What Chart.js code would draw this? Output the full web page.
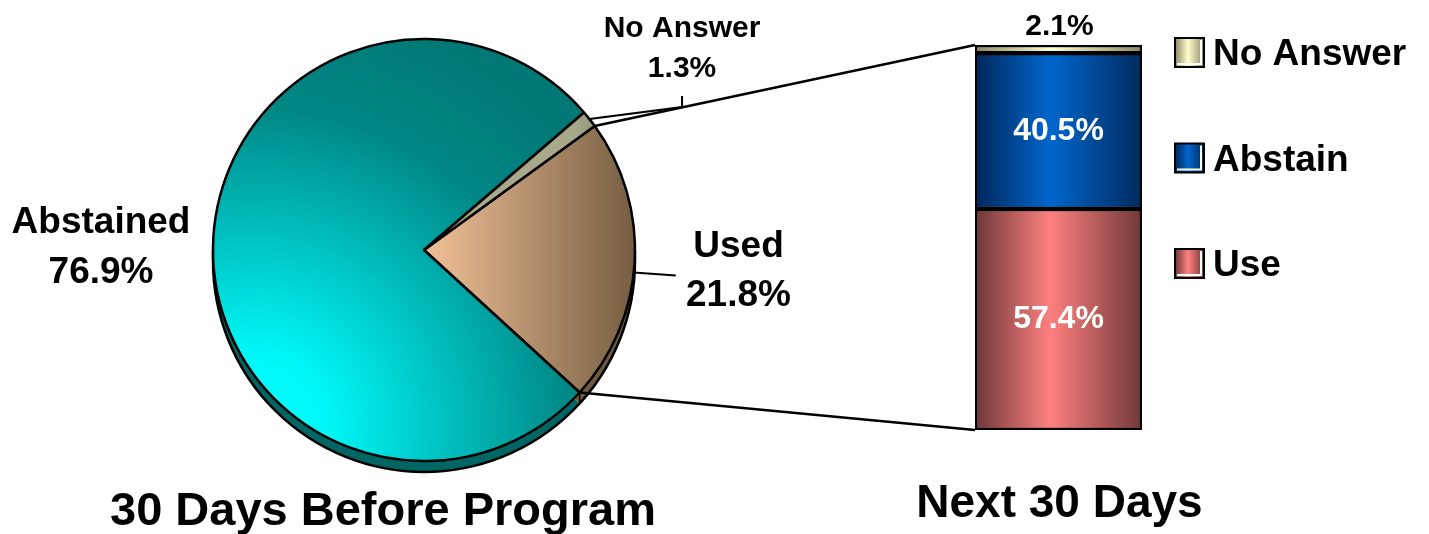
<!doctype html>
<html>
<head>
<meta charset="utf-8">
<title>30 Days Before Program / Next 30 Days</title>
<script src="https://cdn.jsdelivr.net/npm/chart.js@4.4.1/dist/chart.umd.min.js"></script>
<style>
  html, body { margin: 0; padding: 0; background: #fff; }
  #wrap { position: relative; width: 1429px; height: 534px; }
  #wrap canvas { position: absolute; top: 0; }
  #pie { left: 0; }
  #bar { left: 860px; }
</style>
</head>
<body>
<div id="wrap">
  <canvas id="pie" width="1429" height="534"></canvas>
  <canvas id="bar" width="569" height="534"></canvas>
</div>
<script>
// pie: the 30 days before the program
var pieLabels = ['Used', 'Abstained', 'No Answer'];
var pieValues = [21.8, 76.9, 1.3];
var pieTitle = '30 Days Before Program';

// stacked bar: the next 30 days (bottom to top)
var barLabels = ['Use', 'Abstain', 'No Answer'];
var barValues = [57.4, 40.5, 2.1];
var barTitle = 'Next 30 Days';

var FONT = '"Liberation Sans", Arial, Helvetica, sans-serif';
var DEPTH = 11;      // thickness of the pie rim
var RADIUS = 211;

function pct(v) { return v.toFixed(1) + '%'; }

// edge - centre - edge shading for bars and legend boxes
var barStops = [
  ['#6c3838', '#ff8080', '#703838'],
  ['#00275a', '#0066cc', '#002a5e'],
  ['#8a8866', '#ffffcc', '#8a8866']
];

function shade(ctx, x0, x1, stops) {
  var g = ctx.createLinearGradient(x0, 0, x1, 0);
  g.addColorStop(0, stops[0]);
  g.addColorStop(0.45, stops[1]);
  g.addColorStop(1, stops[2]);
  return g;
}

function barFill(chart, i) {
  var a = chart.chartArea;
  if (!a) return barStops[i][1];
  return shade(chart.ctx, a.left, a.right, barStops[i]);
}

var pieFlat = ['#b0906c', '#00b0b0', '#99987a'];
var pieRim = ['#6e5a40', '#006664', '#707058'];

function pieFill(chart, i) {
  var a = chart.chartArea;
  if (!a) return pieFlat[i];
  var ctx = chart.ctx;
  var cx = (a.left + a.right) / 2, cy = (a.top + a.bottom) / 2;
  var g;
  if (i === 0) {
    g = ctx.createLinearGradient(cx + 10, 0, cx + RADIUS, 0);
    g.addColorStop(0, '#ecbd94');
    g.addColorStop(1, '#765e42');
  } else if (i === 1) {
    g = ctx.createRadialGradient(cx - 170, cy + 175, 0, cx - 170, cy + 175, 420);
    g.addColorStop(0, '#00ffff');
    g.addColorStop(0.18, '#00f6f6');
    g.addColorStop(0.75, '#008886');
    g.addColorStop(1, '#007876');
  } else {
    g = ctx.createLinearGradient(cx + 150, 0, cx + 190, 0);
    g.addColorStop(0, '#a8a88a');
    g.addColorStop(1, '#828164');
  }
  return g;
}

// labels printed on / above the bar segments, plus the bar title
var barText = {
  id: 'barText',
  afterDatasetsDraw: function (chart) {
    var ctx = chart.ctx, a = chart.chartArea;
    ctx.save();
    ctx.textAlign = 'center';
    chart.data.datasets.forEach(function (ds, i) {
      var el = chart.getDatasetMeta(i).data[0];
      var txt = pct(ds.data[0]);
      if (i === chart.data.datasets.length - 1) {
        ctx.font = 'bold 30px ' + FONT;
        ctx.fillStyle = '#000';
        ctx.textBaseline = 'alphabetic';
        ctx.fillText(txt, el.x + 1, el.y - 10);
      } else {
        ctx.font = 'bold 32px ' + FONT;
        ctx.fillStyle = '#fff';
        ctx.textBaseline = 'middle';
        ctx.fillText(txt, el.x, (el.y + el.base) / 2);
      }
    });
    ctx.fillStyle = '#000';
    ctx.textBaseline = 'alphabetic';
    ctx.font = 'bold 46px ' + FONT;
    ctx.fillText(chart.data.labels[0], (a.left + a.right) / 2 + 1, 517);
    ctx.restore();
  }
};

// legend to the right of the bar, top segment first
var barLegend = {
  id: 'barLegend',
  afterDraw: function (chart) {
    var ctx = chart.ctx, a = chart.chartArea;
    var n = chart.data.datasets.length;
    var bx = a.right + 33, size = 29;
    ctx.save();
    ctx.font = 'bold 37px ' + FONT;
    ctx.textBaseline = 'alphabetic';
    ctx.textAlign = 'left';
    for (var k = 0; k < n; k++) {
      var i = n - 1 - k;
      var ty = 38 + k * 105.5;
      ctx.fillStyle = shade(ctx, bx, bx + size, barStops[i]);
      ctx.fillRect(bx, ty, size, size);
      ctx.strokeStyle = '#fff';
      ctx.lineWidth = 2;
      ctx.beginPath();
      ctx.moveTo(bx + 2, ty + size - 3);
      ctx.lineTo(bx + size - 3, ty + size - 3);
      ctx.lineTo(bx + size - 3, ty + 2);
      ctx.stroke();
      ctx.strokeStyle = '#000';
      ctx.strokeRect(bx, ty, size, size);
      ctx.fillStyle = '#000';
      ctx.fillText(chart.data.datasets[i].label, bx + 38, ty + 27);
    }
    ctx.restore();
  }
};

var barCanvas = document.getElementById('bar');
var barChart = new Chart(barCanvas, {
  type: 'bar',
  data: {
    labels: [barTitle],
    datasets: barLabels.map(function (lab, i) {
      return {
        label: lab,
        data: [barValues[i]],
        backgroundColor: function (c) { return barFill(c.chart, i); },
        borderColor: '#000',
        borderWidth: 2.5,
        borderSkipped: false,
        barPercentage: 1,
        categoryPercentage: 1
      };
    })
  },
  options: {
    responsive: false,
    animation: false,
    events: [],
    layout: { padding: { left: 115, right: 287, top: 45, bottom: 104 } },
    scales: {
      x: { display: false, stacked: true },
      y: { display: false, stacked: true, min: 0, max: 100 }
    },
    plugins: { legend: { display: false }, tooltip: { enabled: false } }
  },
  plugins: [barText, barLegend]
});

// rim under the pie so it reads as a thick disc
var pieRimPlugin = {
  id: 'pieRim',
  beforeDatasetsDraw: function (chart) {
    var ctx = chart.ctx;
    var arcs = chart.getDatasetMeta(0).data;
    var cx = arcs[0].x, cy = arcs[0].y, r = arcs[0].outerRadius;
    ctx.save();
    arcs.forEach(function (arc, i) {
      ctx.beginPath();
      ctx.moveTo(cx, cy + DEPTH);
      ctx.arc(cx, cy + DEPTH, r, arc.startAngle, arc.endAngle);
      ctx.closePath();
      ctx.fillStyle = pieRim[i];
      ctx.fill();
    });
    ctx.fillStyle = pieRim[1];
    ctx.fillRect(cx - r, cy, 4, DEPTH);
    ctx.fillStyle = pieRim[0];
    ctx.fillRect(cx + r - 4, cy, 4, DEPTH);
    ctx.strokeStyle = '#000';
    ctx.lineWidth = 2.5;
    ctx.beginPath();
    ctx.moveTo(cx - r, cy);
    ctx.lineTo(cx - r, cy + DEPTH);
    ctx.arc(cx, cy + DEPTH, r, Math.PI, 0, true);
    ctx.lineTo(cx + r, cy);
    ctx.stroke();
    // slice boundaries visible on the front of the rim
    arcs.forEach(function (arc) {
      var a = arc.startAngle % (2 * Math.PI);
      if (Math.sin(a) > 0) {
        var ex = cx + r * Math.cos(a), ey = cy + r * Math.sin(a);
        ctx.lineWidth = 1.5;
        ctx.beginPath();
        ctx.moveTo(ex, ey);
        ctx.lineTo(ex, ey + DEPTH);
        ctx.stroke();
      }
    });
    ctx.restore();
  }
};

// slice labels, leader lines, lines across to the bar and the pie title
var labelGap = [104, 112, 118];
var labelSize = [37, 37, 30];
var lineStep = [49, 50, 40];

var pieNotes = {
  id: 'pieNotes',
  afterDraw: function (chart) {
    var ctx = chart.ctx;
    var arcs = chart.getDatasetMeta(0).data;
    var cx = arcs[0].x, cy = arcs[0].y, r = arcs[0].outerRadius;
    function edge(a, extra) {
      return [cx + (r + (extra || 0)) * Math.cos(a), cy + (r + (extra || 0)) * Math.sin(a)];
    }
    ctx.save();
    ctx.strokeStyle = '#000';
    ctx.lineWidth = 2.5;
    ctx.lineJoin = 'miter';

    // lines from the "Used" slice to the bar
    var offX = barCanvas.offsetLeft, offY = barCanvas.offsetTop;
    var topEl = barChart.getDatasetMeta(barLabels.length - 1).data[0];
    var botEl = barChart.getDatasetMeta(0).data[0];
    var p1 = edge(arcs[0].startAngle), p2 = edge(arcs[0].endAngle);
    ctx.beginPath();
    ctx.moveTo(p1[0], p1[1]);
    ctx.lineTo(offX + topEl.x - topEl.width / 2, offY + topEl.y);
    ctx.moveTo(p2[0], p2[1]);
    ctx.lineTo(offX + botEl.x - botEl.width / 2, offY + botEl.base);
    ctx.stroke();

    ctx.textAlign = 'center';
    ctx.textBaseline = 'alphabetic';
    ctx.fillStyle = '#000';
    arcs.forEach(function (arc, i) {
      var mid = (arc.startAngle + arc.endAngle) / 2;
      var c = edge(mid, labelGap[i]);
      var fs = labelSize[i], step = lineStep[i];
      var b1 = c[1] - step / 2 + fs * 0.36;
      ctx.font = 'bold ' + fs + 'px ' + FONT;
      ctx.fillText(pieLabels[i], c[0], b1);
      ctx.fillText(pct(pieValues[i]), c[0], b1 + step);
    });

    // leader to "Used"
    var mu = (arcs[0].startAngle + arcs[0].endAngle) / 2 + 0.05;
    var s = edge(mu);
    ctx.lineWidth = 2;
    ctx.beginPath();
    ctx.moveTo(s[0], s[1]);
    ctx.lineTo(s[0] + 42, s[1] + 3);
    ctx.stroke();

    // leader to "No Answer"
    var mn = (arcs[2].startAngle + arcs[2].endAngle) / 2;
    var cn = edge(mn, labelGap[2]);
    var sn = edge(mn);
    ctx.beginPath();
    ctx.moveTo(sn[0], sn[1]);
    ctx.lineTo(cn[0], sn[1] - 12);
    ctx.lineTo(cn[0], cn[1] + 50);
    ctx.stroke();

    ctx.font = 'bold 47px ' + FONT;
    ctx.fillText(pieTitle, 383, 525);
    ctx.restore();
  }
};

new Chart(document.getElementById('pie'), {
  type: 'pie',
  data: {
    labels: pieLabels,
    datasets: [{
      data: pieValues,
      backgroundColor: function (c) { return pieFill(c.chart, c.dataIndex); },
      borderColor: '#000',
      borderWidth: 2.5,
      hoverOffset: 0
    }]
  },
  options: {
    responsive: false,
    animation: false,
    events: [],
    rotation: 54,
    radius: RADIUS,
    layout: { padding: { left: 0, top: 0, right: 581, bottom: 34 } },
    plugins: { legend: { display: false }, tooltip: { enabled: false } }
  },
  plugins: [pieRimPlugin, pieNotes]
});
</script>
</body>
</html>
